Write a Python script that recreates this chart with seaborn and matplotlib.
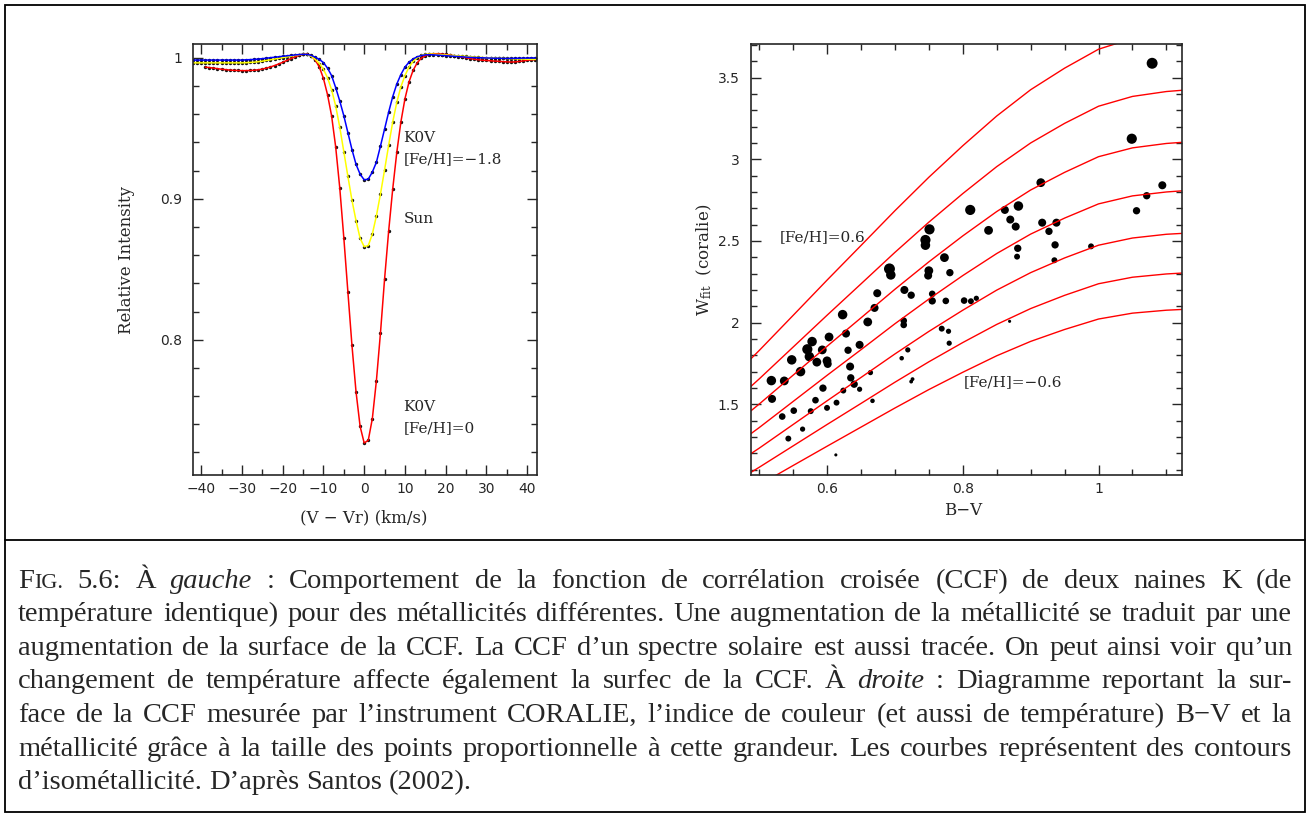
import numpy as np
import pandas as pd
import seaborn as sns
import matplotlib.pyplot as plt
from matplotlib.ticker import MultipleLocator, FuncFormatter
from matplotlib.patches import Rectangle
from matplotlib.lines import Line2D
from matplotlib.transforms import IdentityTransform

sns.set_style('ticks')
plt.rcParams['font.family'] = ['DejaVu Sans']
plt.rcParams['mathtext.fontset'] = 'dejavuserif'

# ---- left panel: CCF profiles (1 km/s steps)
vel = list(range(-42, 43))
vel_red = list(range(-39, 43))

ccf_red = [0.9935, 0.9932, 0.9928, 0.9924, 0.9920, 0.9917, 0.9914, 0.9912, 0.9911, 0.9910,
           0.9910, 0.9911, 0.9913, 0.9916, 0.9921, 0.9928, 0.9936, 0.9946, 0.9957, 0.9969,
           0.9982, 0.9995, 1.0007, 1.0018, 1.0026, 1.0028, 1.0015, 0.9985, 0.9935, 0.9855,
           0.9740, 0.9590, 0.9370, 0.9080, 0.8725, 0.8340, 0.7960, 0.7630, 0.7385,
           0.7267,
           0.7286, 0.7440, 0.7710, 0.8050, 0.8430, 0.8770, 0.9070, 0.9330, 0.9545, 0.9710,
           0.9830, 0.9912,
           0.9965, 0.9998, 1.0015, 1.0026, 1.0030, 1.0030, 1.0028, 1.0025, 1.0021, 1.0016,
           1.0011, 1.0006, 1.0001, 0.9996, 0.9991, 0.9987, 0.9984, 0.9982,
           0.9980, 0.9978, 0.9976, 0.9974, 0.9972, 0.9971, 0.9972, 0.9975, 0.9979, 0.9983,
           0.9986, 0.9988]

ccf_sun = [0.9965] * 13 + [
    0.9966, 0.9968, 0.9970, 0.9973, 0.9977, 0.9982, 0.9987, 0.9992, 0.9997, 1.0002,
    1.0007, 1.0012, 1.0018, 1.0023, 1.0026, 1.0025, 1.0012, 0.9990, 0.9960, 0.9920,
    0.9860, 0.9775, 0.9660, 0.9510, 0.9335, 0.9160, 0.8990, 0.8845, 0.8720,
    0.8660,
    0.8668, 0.8750, 0.8880, 0.9035, 0.9205, 0.9380, 0.9545, 0.9685, 0.9795, 0.9875,
    0.9935, 0.9975,
    1.0002, 1.0018, 1.0026, 1.0028, 1.0027, 1.0025, 1.0023, 1.0021, 1.0019, 1.0017,
    1.0015, 1.0013, 1.0011, 1.0009, 1.0007, 1.0005, 1.0003, 1.0001,
    1.0000, 0.9999, 0.9998, 0.9997, 0.9996, 0.9995, 0.9994, 0.9993, 0.9992, 0.9991,
    0.9990, 0.9990]

ccf_poor = [0.9985] * 13 + [
    0.9987, 0.9988, 0.9990, 0.9992, 0.9995, 0.9998, 1.0002, 1.0005, 1.0008, 1.0012,
    1.0015, 1.0018, 1.0021, 1.0024, 1.0026, 1.0025, 1.0018, 1.0005, 0.9990, 0.9967,
    0.9928, 0.9875, 0.9790, 0.9695, 0.9590, 0.9470, 0.9350, 0.9245, 0.9175,
    0.9135,
    0.9140, 0.9190, 0.9260, 0.9375, 0.9495, 0.9615, 0.9725, 0.9815, 0.9882, 0.9935,
    0.9970, 0.9993,
    1.0008, 1.0017, 1.0022, 1.0023, 1.0022, 1.0020, 1.0018, 1.0016, 1.0014, 1.0012,
    1.0010, 1.0008, 1.0006, 1.0004, 1.0003, 1.0002, 1.0001, 1.0000,
    0.9999, 0.9998, 0.9998, 0.9997, 0.9997, 0.9997, 0.9998, 0.9998, 0.9999, 0.9999,
    1.0000, 1.0000]

# ---- right panel: iso-metallicity curves
bv_grid = [0.48, 0.50, 0.55, 0.60, 0.65, 0.70, 0.75, 0.80, 0.85, 0.90, 0.95, 1.00, 1.05, 1.10, 1.13]
iso_p06 = [1.746, 1.829, 2.044, 2.260, 2.472, 2.685, 2.890, 3.083, 3.265, 3.426, 3.558, 3.674, 3.740, 3.774, 3.785]
iso_p04 = [1.580, 1.655, 1.850, 2.045, 2.237, 2.430, 2.615, 2.790, 2.955, 3.100, 3.220, 3.325, 3.385, 3.415, 3.425]
iso_p02 = [1.433, 1.501, 1.678, 1.855, 2.029, 2.204, 2.372, 2.531, 2.680, 2.812, 2.920, 3.016, 3.070, 3.097, 3.106]
iso_000 = [1.296, 1.357, 1.517, 1.677, 1.834, 1.993, 2.144, 2.288, 2.423, 2.542, 2.640, 2.727, 2.776, 2.800, 2.809]
iso_m02 = [1.176, 1.231, 1.376, 1.521, 1.664, 1.808, 1.946, 2.076, 2.199, 2.306, 2.396, 2.474, 2.518, 2.541, 2.548]
iso_m04 = [1.063, 1.114, 1.245, 1.376, 1.505, 1.635, 1.760, 1.878, 1.989, 2.086, 2.167, 2.238, 2.278, 2.298, 2.305]
iso_m06 = [0.961, 1.006, 1.125, 1.243, 1.360, 1.477, 1.590, 1.696, 1.797, 1.885, 1.958, 2.022, 2.058, 2.076, 2.082]
iso_feh = [0.6, 0.4, 0.2, 0.0, -0.2, -0.4, -0.6]

# ---- right panel: CORALIE stars (B-V, W_fit, [Fe/H])
bv_star = [0.674, 0.670, 0.623, 0.660, 0.603, 0.628, 0.578, 0.571, 0.593, 0.648,
           0.631, 0.548, 0.574, 0.585, 0.600, 0.601, 0.634, 0.561, 0.635, 0.518,
           0.537, 0.664, 0.640, 0.594, 0.624, 0.648, 0.519, 0.583, 0.667, 0.614,
           0.600, 0.551, 0.576, 0.534, 0.564, 0.543, 0.613,
           0.811, 0.838, 0.751, 0.745, 0.745, 0.773, 0.692, 0.694, 0.750, 0.749, 0.781,
           0.714, 0.724, 0.755, 0.755, 0.775, 0.802, 0.812, 0.820, 0.713, 0.713, 0.769, 0.779,
           0.710, 0.719, 0.724, 0.726, 0.780,
           0.915, 0.862, 0.882, 0.870, 0.878, 0.917, 0.938, 0.927, 0.881, 0.880, 0.936, 0.935,
           0.989, 0.869,
           1.079, 1.049, 1.094, 1.071, 1.056]
w_star = [2.180, 2.090, 2.049, 2.004, 1.912, 1.933, 1.884, 1.837, 1.833, 1.864,
          1.831, 1.772, 1.792, 1.758, 1.766, 1.747, 1.731, 1.700, 1.662, 1.645,
          1.643, 1.694, 1.623, 1.599, 1.584, 1.592, 1.533, 1.525, 1.521, 1.510,
          1.478, 1.461, 1.458, 1.425, 1.348, 1.290, 1.190,
          2.690, 2.565, 2.571, 2.506, 2.474, 2.398, 2.329, 2.292, 2.318, 2.288, 2.306,
          2.200, 2.168, 2.176, 2.133, 2.133, 2.135, 2.131, 2.149, 2.012, 1.986, 1.963, 1.947,
          1.782, 1.833, 1.639, 1.654, 1.874,
          2.857, 2.690, 2.714, 2.631, 2.588, 2.612, 2.612, 2.559, 2.455, 2.404, 2.476, 2.382,
          2.467, 2.008,
          3.588, 3.126, 2.841, 2.777, 2.685]
feh_star = [-0.14, -0.14, 0.12, -0.01, -0.01, -0.14, 0.12, 0.26, -0.01, -0.14,
            -0.25, 0.12, 0.12, -0.01, -0.01, -0.14, -0.14, 0.12, -0.25, 0.12,
            -0.01, -0.52, -0.25, -0.25, -0.44, -0.52, -0.14, -0.35, -0.59, -0.44,
            -0.44, -0.35, -0.44, -0.35, -0.52, -0.44, -0.70,
            0.26, -0.01, 0.26, 0.26, 0.12, -0.01, 0.42, 0.12, -0.01, -0.14, -0.25,
            -0.14, -0.25, -0.35, -0.25, -0.35, -0.35, -0.44, -0.52, -0.35, -0.35, -0.44, -0.52,
            -0.59, -0.52, -0.65, -0.65, -0.52,
            -0.01, -0.14, 0.12, -0.14, -0.14, -0.14, -0.14, -0.25, -0.25, -0.44, -0.25, -0.44,
            -0.44, -0.70,
            0.42, 0.26, -0.14, -0.25, -0.25]

caption_lines = [
    "FIG. 5.6: À *gauche* : Comportement de la fonction de corrélation croisée (CCF) de deux naines K (de",
    "température identique) pour des métallicités différentes. Une augmentation de la métallicité se traduit par une",
    "augmentation de la surface de la CCF. La CCF d’un spectre solaire est aussi tracée. On peut ainsi voir qu’un",
    "changement de température affecte également la surfec de la CCF. À *droite* : Diagramme reportant la sur-",
    "face de la CCF mesurée par l’instrument CORALIE, l’indice de couleur (et aussi de température) B−V et la",
    "métallicité grâce à la taille des points proportionnelle à cette grandeur. Les courbes représentent des contours",
    "d’isométallicité. D’après Santos (2002).",
]

W_PX, H_PX = 1310, 817
fig = plt.figure(figsize=(W_PX / 100, H_PX / 100), dpi=100)
ax1 = fig.add_axes([193 / W_PX, 342 / H_PX, 344 / W_PX, 431 / H_PX])
ax2 = fig.add_axes([751 / W_PX, 342 / H_PX, 431 / W_PX, 431 / H_PX])

serif = 'DejaVu Serif'
fmt = FuncFormatter(lambda x, p: f'{x:g}'.replace('-', '\u2212'))

# ---- left panel
ccf = pd.concat([
    pd.DataFrame({'v': vel_red, 'I': ccf_red, 'star': 'K0V [Fe/H]=0'}),
    pd.DataFrame({'v': vel, 'I': ccf_sun, 'star': 'Sun'}),
    pd.DataFrame({'v': vel, 'I': ccf_poor, 'star': 'K0V [Fe/H]=-1.8'}),
])
sns.lineplot(data=ccf, x='v', y='I', hue='star', estimator=None, sort=False,
             palette={'K0V [Fe/H]=0': '#ff0000', 'Sun': '#ffff00', 'K0V [Fe/H]=-1.8': '#0000ff'},
             lw=1.1, legend=False, ax=ax1)
sns.scatterplot(data=ccf, x='v', y='I', color='#111111', s=6, linewidth=0, legend=False, ax=ax1)

ax1.set_xlim(-42, 42.4)
ax1.set_ylim(0.704, 1.0099)
ax1.xaxis.set_major_locator(MultipleLocator(10))
ax1.xaxis.set_minor_locator(MultipleLocator(5))
ax1.yaxis.set_major_locator(MultipleLocator(0.1))
ax1.yaxis.set_minor_locator(MultipleLocator(0.02))
ax1.text(9.6, 0.9433, 'K0V', fontsize=11, family=serif, va='center')
ax1.text(9.6, 0.928, '[Fe/H]=\u22121.8', fontsize=11, family=serif, va='center')
ax1.text(9.6, 0.886, 'Sun', fontsize=11, family=serif, va='center')
ax1.text(9.6, 0.752, 'K0V', fontsize=11, family=serif, va='center')
ax1.text(9.6, 0.737, '[Fe/H]=0', fontsize=11, family=serif, va='center')
ax1.set_xlabel('(V \u2212 Vr) (km/s)', fontsize=12, family=serif)
ax1.set_ylabel('Relative Intensity', fontsize=12, family=serif)
ax1.xaxis.set_label_coords(0.497, -0.08)
ax1.yaxis.set_label_coords(-0.17, 0.5)

# ---- right panel
iso = pd.concat([pd.DataFrame({'bv': bv_grid, 'W': vals, 'feh': f})
                 for vals, f in zip([iso_p06, iso_p04, iso_p02, iso_000, iso_m02, iso_m04, iso_m06], iso_feh)])
sns.lineplot(data=iso, x='bv', y='W', units='feh', estimator=None, sort=False,
             color='#ff0000', lw=1.0, legend=False, ax=ax2)
sns.scatterplot(x=bv_star, y=w_star, size=feh_star, sizes=(5, 62), size_norm=(-0.70, 0.42),
                color='black', linewidth=0, legend=False, ax=ax2)

ax2.set_xlim(0.488, 1.123)
ax2.set_ylim(1.067, 3.706)
ax2.xaxis.set_major_locator(MultipleLocator(0.2))
ax2.xaxis.set_minor_locator(MultipleLocator(0.05))
ax2.yaxis.set_major_locator(MultipleLocator(0.5))
ax2.yaxis.set_minor_locator(MultipleLocator(0.1))
ax2.text(0.530, 2.524, '[Fe/H]=0.6', fontsize=11, family=serif, va='center')
ax2.text(0.801, 1.637, '[Fe/H]=\u22120.6', fontsize=11, family=serif, va='center')
ax2.set_xlabel('B\u2212V', fontsize=12, family=serif)
ax2.set_ylabel(r'W$_{\rm fit}$  (coralie)', fontsize=12, family=serif)
ax2.xaxis.set_label_coords(0.492, -0.062)
ax2.yaxis.set_label_coords(-0.085, 0.5)

for ax in (ax1, ax2):
    ax.xaxis.set_major_formatter(fmt)
    ax.yaxis.set_major_formatter(fmt)
    ax.tick_params(which='both', direction='in', top=True, right=True, width=1.0, labelsize=10)
    ax.tick_params(which='major', length=7)
    ax.tick_params(which='minor', length=4)
    ax.tick_params(axis='y', which='major', pad=8)
    ax.tick_params(axis='x', which='major', pad=5)
    for sp in ax.spines.values():
        sp.set_linewidth(1.2)
    ax.set_facecolor('white')

# ---- frame and separator
fig.add_artist(Rectangle((5 / W_PX, 5 / H_PX), 1300 / W_PX, 807 / H_PX, transform=fig.transFigure,
                         fill=False, lw=1.3, ec='black'))
fig.add_artist(Line2D([5 / W_PX, 1305 / W_PX], [(H_PX - 540) / H_PX] * 2, transform=fig.transFigure,
                      lw=1.3, color='black'))

# ---- justified caption
renderer = fig.canvas.get_renderer()
cap_family = 'Liberation Serif'
cap_size = 20.5
x_left, x_right = 18, 1292
baselines = [588, 621, 655, 688, 722, 756, 789]


def word_pieces(w):
    if w == 'FIG.':
        return [('F', cap_size, 'normal'), ('IG.', cap_size * 0.78, 'normal')]
    if w.startswith('*'):
        return [(w.strip('*'), cap_size, 'italic')]
    return [(w, cap_size, 'normal')]


sp_a = fig.text(0, 0, 'a a', fontsize=cap_size, family=cap_family)
sp_b = fig.text(0, 0, 'aa', fontsize=cap_size, family=cap_family)
space_w = sp_a.get_window_extent(renderer).width - sp_b.get_window_extent(renderer).width
sp_a.remove()
sp_b.remove()

for i, line in enumerate(caption_lines):
    words = []
    for w in line.split(' '):
        parts = []
        for txt, size, style in word_pieces(w):
            t = fig.text(0, 0, txt, fontsize=size, style=style, family=cap_family,
                         transform=IdentityTransform(), va='baseline', ha='left')
            parts.append((t, t.get_window_extent(renderer).width))
        words.append(parts)
    widths = [sum(p[1] for p in parts) for parts in words]
    if i < len(caption_lines) - 1:
        gap = (x_right - x_left - sum(widths)) / (len(words) - 1)
    else:
        gap = space_w
    x = x_left
    y = H_PX - baselines[i]
    for parts, wsum in zip(words, widths):
        xx = x
        for t, wd in parts:
            t.set_position((xx, y))
            xx += wd
        x += wsum + gap

fig.savefig('out.png', dpi=100, facecolor='white')
